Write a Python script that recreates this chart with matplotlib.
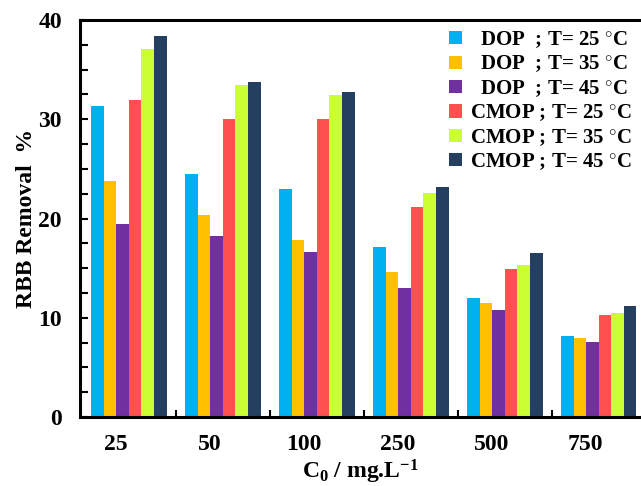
import matplotlib.pyplot as plt
import numpy as np

plt.rcParams['font.family'] = ['Liberation Serif', 'DejaVu Serif']
plt.rcParams['font.weight'] = 'bold'
plt.rcParams['mathtext.fontset'] = 'custom'
plt.rcParams['mathtext.rm'] = 'Liberation Serif:bold'
plt.rcParams['mathtext.bf'] = 'Liberation Serif:bold'
plt.rcParams['mathtext.it'] = 'Liberation Serif:bold'

concs = ['25', '50', '100', '250', '500', '750']
dop_25 = [31.3, 24.5, 23.0, 17.1, 12.0, 8.2]
dop_35 = [23.8, 20.4, 17.8, 14.6, 11.5, 8.0]
dop_45 = [19.4, 18.2, 16.6, 13.0, 10.8, 7.55]
cmop_25 = [31.9, 30.0, 30.0, 21.2, 14.9, 10.3]
cmop_35 = [37.1, 33.5, 32.4, 22.6, 15.3, 10.5]
cmop_45 = [38.4, 33.8, 32.7, 23.2, 16.5, 11.2]

series = [dop_25, dop_35, dop_45, cmop_25, cmop_35, cmop_45]
labels = ['  DOP  ; T= 25 $^{\\circ}$C', '  DOP  ; T= 35 $^{\\circ}$C', '  DOP  ; T= 45 $^{\\circ}$C',
          'CMOP ; T= 25 $^{\\circ}$C', 'CMOP ; T= 35 $^{\\circ}$C', 'CMOP ; T= 45 $^{\\circ}$C']
colors = ['#00B0F0', '#FFC000', '#7030A0', '#FF5050', '#CCFF33', '#243F60']

fig = plt.figure(figsize=(6.41, 4.86), dpi=100)
ax = fig.add_axes([0.1248, 0.142, 0.8752, 0.8168])

x = np.arange(len(concs))
w = 0.134
for i, (vals, lab, c) in enumerate(zip(series, labels, colors)):
    ax.bar(x + (i - 2.5) * w, vals, width=w, color=c, label=lab)

ax.set_xlim(-0.519, 5.45)
ax.set_ylim(0, 40)
ax.set_yticks([0, 10, 20, 30, 40])
ax.set_yticks(np.arange(0, 40.1, 2.5), minor=True)
ax.set_xticks(x - 0.14)
ax.set_xticklabels(concs)
ax.set_xticks(np.arange(0.5, 5.0, 1.0), minor=True)

ax.tick_params(axis='y', which='both', direction='in', length=6, width=1.5, labelsize=17, pad=13)
ax.tick_params(axis='x', which='major', length=0, labelsize=17, pad=12)
ax.tick_params(axis='x', which='minor', direction='in', length=5, width=1.5)

for s in ['left', 'top', 'bottom']:
    ax.spines[s].set_linewidth(2.2)
ax.spines['right'].set_visible(False)

ax.set_ylabel('RBB Removal  %', fontsize=17, fontweight='bold', labelpad=1)
ax.set_xlabel('C$_{0}$ / mg.L$^{-1}$', fontsize=17, fontweight='bold', labelpad=2)

leg = ax.legend(loc='upper right', bbox_to_anchor=(1.0, 1.0), frameon=False, fontsize=15,
                handlelength=0.6, handleheight=0.6, handletextpad=0.4, labelspacing=0.17,
                borderaxespad=0.05)

fig.savefig('out.png', dpi=100)
